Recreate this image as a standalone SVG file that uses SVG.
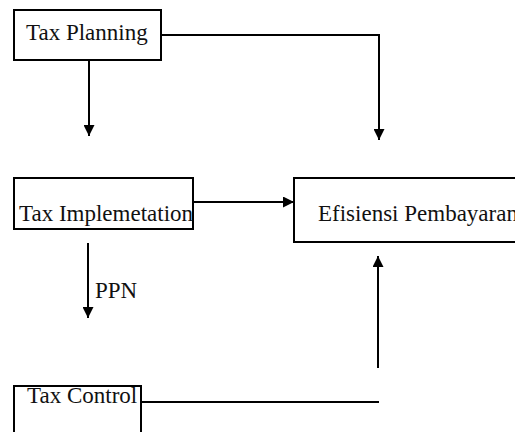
<svg xmlns="http://www.w3.org/2000/svg" width="515" height="432" viewBox="0 0 515 432">
<style>
.box{fill:#fff;stroke:#000;stroke-width:2}
.t{font-family:"Liberation Serif","Times New Roman",Tinos,"DejaVu Serif",serif;font-size:23px;fill:#111}
.c{fill:none;stroke:#000;stroke-width:2}
</style>
<defs>
<marker id="ah" viewBox="0 0 10 10" refX="10" refY="5" markerWidth="11" markerHeight="11" markerUnits="userSpaceOnUse" orient="auto">
<path d="M0,0 L10,5 L0,10 z" fill="#000"/>
</marker>
</defs>
<rect width="515" height="432" fill="#fff"/>
<g id="connectors">
<line class="c" x1="89" y1="60" x2="89" y2="136" marker-end="url(#ah)"/>
<polyline class="c" points="161,35 379,35 379,140" marker-end="url(#ah)"/>
<line class="c" x1="193" y1="202" x2="294" y2="202" marker-end="url(#ah)"/>
<line class="c" x1="88" y1="243" x2="88" y2="318" marker-end="url(#ah)"/>
<line class="c" x1="141" y1="402" x2="379" y2="402"/>
<line class="c" x1="378" y1="368" x2="378" y2="256" marker-end="url(#ah)"/>
<text class="t" x="95" y="298">PPN</text>
</g>
<g id="tax-planning">
<rect class="box" x="14" y="10" width="147" height="50"/>
<text class="t" x="26" y="40">Tax Planning</text>
</g>
<g id="tax-implementation">
<rect class="box" x="14" y="178" width="179" height="51"/>
<text class="t" x="19" y="221">Tax Implemetation</text>
</g>
<g id="efisiensi">
<rect class="box" x="294" y="178" width="240" height="64"/>
<text class="t" x="318" y="221">Efisiensi Pembayaran</text>
</g>
<g id="tax-control">
<rect class="box" x="14" y="386" width="127" height="60"/>
<text class="t" x="27" y="403">Tax Control</text>
</g>
</svg>
